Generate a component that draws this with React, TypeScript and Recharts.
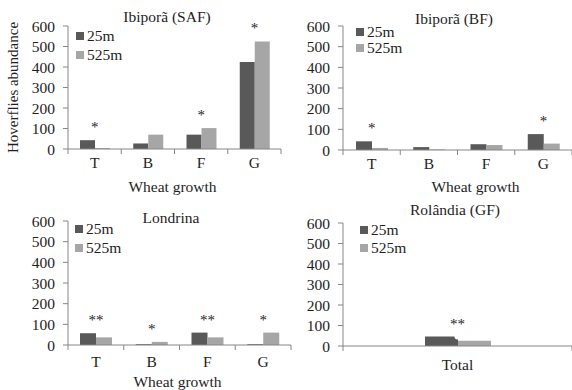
import React from 'react';
import { ComposedChart, Bar, Line, XAxis, YAxis, Legend, Label, LabelList } from 'recharts';

// Wheat growth stages and hoverfly counts at 25 m / 525 m from the forest edge
const stages = ['T', 'B', 'F', 'G'];

const safNear = [43, 27, 70, 425];
const safFar = [5, 70, 102, 525];
const safSig = ['*', '', '*', '*'];

const bfNear = [42, 14, 28, 77];
const bfFar = [10, 3, 24, 31];
const bfSig = ['*', '', '', '*'];

const lonNear = [57, 4, 60, 4];
const lonFar = [37, 15, 37, 60];
const lonSig = ['**', '*', '**', '*'];

const rolCats = ['Total'];
const rolNear = [46];
const rolFar = [26];
const rolSig = ['**'];

const yTicks = [0, 100, 200, 300, 400, 500, 600];

const FONT = '"Liberation Serif", "Times New Roman", serif';
const DARK = '#595959';
const LIGHT = '#a6a6a6';
const AXIS = '#868686';
const TEXT = '#1e1e1e';

const buildRows = (cats: string[], near: number[], far: number[], sig: string[]) =>
  cats.map((c, i) => ({ cat: c, near: near[i], far: far[i], top: Math.max(near[i], far[i]), sig: sig[i] }));

const CategoryTick = (props: any) => {
  const { x, y, payload, band, count, textDy } = props;
  const last = payload.index === count - 1;
  return (
    <g>
      <line x1={x - band / 2} x2={x - band / 2} y1={y} y2={y + 5} stroke={AXIS} />
      {last && <line x1={x + band / 2} x2={x + band / 2} y1={y} y2={y + 5} stroke={AXIS} />}
      <text x={x} y={y + textDy} textAnchor="middle" fontSize={15.5} fill={TEXT} fontFamily={FONT}>
        {payload.value}
      </text>
    </g>
  );
};

const StarLabel = (props: any) => {
  const { x, y, value } = props;
  if (!value) return null;
  return (
    <text x={x} y={y - 8} textAnchor="middle" fontSize={15} fill={TEXT} fontFamily={FONT}>
      {value}
    </text>
  );
};

const LegendBox = (props: any) => {
  const items = (props.payload || []).filter((p: any) => p.type !== 'none');
  return (
    <div style={{ fontFamily: FONT, fontSize: 15.5, color: TEXT }}>
      {items.map((p: any) => (
        <div key={p.value} style={{ display: 'flex', alignItems: 'center', height: props.rowH }}>
          <span style={{ width: 8, height: 8, background: p.color, marginRight: 3, display: 'inline-block' }} />
          <span>{p.value}</span>
        </div>
      ))}
    </div>
  );
};

interface PanelProps {
  left: number;
  top: number;
  width: number;
  height: number;
  rows: any[];
  yWidth: number;
  mTop: number;
  mRight: number;
  xHeight: number;
  barSize: number;
  textDy: number;
  legendPos: { left: number; top: number; rowH: number };
  title: string;
  titleX: number;
  titleY: number;
  xLabel?: { dx: number; offset: number };
  yLabel?: boolean;
}

const Panel = (p: PanelProps) => {
  const band = (p.width - p.yWidth - p.mRight) / p.rows.length;
  return (
    <div style={{ position: 'absolute', left: p.left, top: p.top, width: p.width, height: p.height }}>
      <ComposedChart
        width={p.width}
        height={p.height}
        data={p.rows}
        margin={{ top: p.mTop, right: p.mRight, bottom: 0, left: 0 }}
        barGap={0}
        barSize={p.barSize}
      >
        <XAxis
          dataKey="cat"
          height={p.xHeight}
          axisLine={{ stroke: AXIS }}
          tickLine={false}
          tickSize={0}
          tickMargin={0}
          interval={0}
          tick={<CategoryTick band={band} count={p.rows.length} textDy={p.textDy} />}
        >
          {p.xLabel && (
            <Label
              value="Wheat growth"
              position="insideBottom"
              offset={p.xLabel.offset}
              dx={p.xLabel.dx}
              style={{ fontSize: 15.5, fill: TEXT, fontFamily: FONT }}
            />
          )}
        </XAxis>
        <YAxis
          width={p.yWidth}
          domain={[0, 600]}
          ticks={yTicks}
          interval={0}
          axisLine={{ stroke: AXIS }}
          tickLine={{ stroke: AXIS }}
          tickSize={5}
          tickMargin={8}
          tick={{ fontSize: 15.5, fill: TEXT, fontFamily: FONT }}
        >
          {p.yLabel && (
            <Label
              value="Hoverflies abundance"
              angle={-90}
              position="center"
              dx={-21}
              style={{ fontSize: 15, fill: TEXT, fontFamily: FONT, textAnchor: 'middle' }}
            />
          )}
        </YAxis>
        <Legend
          layout="horizontal"
          align="center"
          verticalAlign="middle"
          wrapperStyle={{ left: p.legendPos.left, top: p.legendPos.top, width: 'auto' }}
          content={<LegendBox rowH={p.legendPos.rowH} />}
        />
        <Bar dataKey="near" name="25m" fill={DARK} isAnimationActive={false} />
        <Bar dataKey="far" name="525m" fill={LIGHT} isAnimationActive={false} />
        <Line dataKey="top" stroke="none" dot={false} activeDot={false} legendType="none" isAnimationActive={false}>
          <LabelList dataKey="sig" content={<StarLabel />} />
        </Line>
      </ComposedChart>
      <svg width={p.width} height={p.height} style={{ position: 'absolute', left: 0, top: 0, pointerEvents: 'none' }}>
        <text x={p.titleX} y={p.titleY} textAnchor="middle" fontSize={15.5} fill={TEXT} fontFamily={FONT}>
          {p.title}
        </text>
      </svg>
    </div>
  );
};

export default function App() {
  return (
    <div style={{ position: 'absolute', left: 0, top: 0, width: 572, height: 390, background: '#fff', overflow: 'hidden' }}>
      <Panel
        left={0}
        top={0}
        width={292}
        height={200}
        rows={buildRows(stages, safNear, safFar, safSig)}
        yWidth={68}
        mTop={26}
        mRight={11}
        xHeight={51}
        barSize={15}
        textDy={19}
        legendPos={{ left: 76, top: 26, rowH: 19 }}
        title="Ibiporã (SAF)"
        titleX={167}
        titleY={22}
        xLabel={{ dx: -2, offset: 8 }}
        yLabel
      />
      <Panel
        left={286}
        top={0}
        width={286}
        height={200}
        rows={buildRows(stages, bfNear, bfFar, bfSig)}
        yWidth={57}
        mTop={26}
        mRight={0}
        xHeight={50}
        barSize={16}
        textDy={19}
        legendPos={{ left: 70, top: 24, rowH: 16 }}
        title="Ibiporã (BF)"
        titleX={168}
        titleY={24}
        xLabel={{ dx: 18, offset: 8 }}
      />
      <Panel
        left={0}
        top={196}
        width={292}
        height={194}
        rows={buildRows(stages, lonNear, lonFar, lonSig)}
        yWidth={68}
        mTop={25}
        mRight={1}
        xHeight={45}
        barSize={16}
        textDy={22}
        legendPos={{ left: 75, top: 23, rowH: 19 }}
        title="Londrina"
        titleX={171}
        titleY={27}
        xLabel={{ dx: -2, offset: 3 }}
      />
      <Panel
        left={286}
        top={196}
        width={286}
        height={194}
        rows={buildRows(rolCats, rolNear, rolFar, rolSig)}
        yWidth={57}
        mTop={27}
        mRight={0}
        xHeight={44}
        barSize={33}
        textDy={24}
        legendPos={{ left: 74, top: 25, rowH: 18 }}
        title="Rolândia (GF)"
        titleX={169}
        titleY={19}
      />
    </div>
  );
}
